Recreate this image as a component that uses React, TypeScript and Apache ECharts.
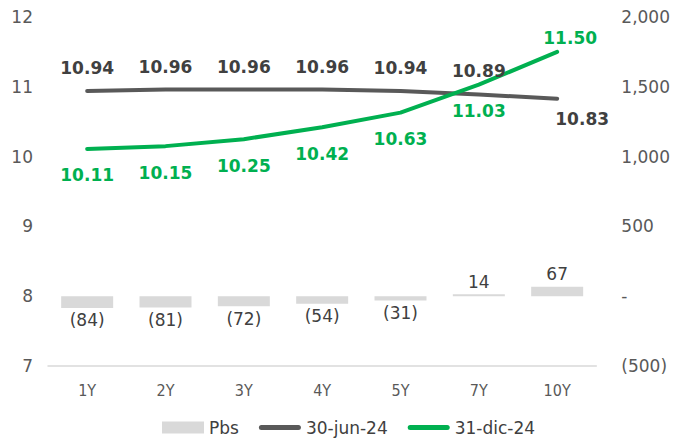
import React, { useEffect, useRef } from "react";
import * as echarts from "echarts";

const categories = ["1Y", "2Y", "3Y", "4Y", "5Y", "7Y", "10Y"];
const pbs = [-84, -81, -72, -54, -31, 14, 67];
const jun24 = [10.94, 10.96, 10.96, 10.96, 10.94, 10.89, 10.83];
const dic24 = [10.11, 10.15, 10.25, 10.42, 10.63, 11.03, 11.5];

const FONT = "DejaVu Sans";
const FONT_C = "DejaVu Sans Condensed";
const LINE_ICON = "path://M2.5,0 H39.5 A2.5,2.5 0 0 1 39.5,5 H2.5 A2.5,2.5 0 0 1 2.5,0 Z";

export default function App() {
  const ref = useRef<HTMLDivElement>(null);
  useEffect(() => {
    if (!ref.current) return;
    const chart = echarts.init(ref.current, null, { renderer: "svg" });
    const junData = jun24.map((v, i) => {
      if (i === jun24.length - 1) {
        return { value: v, label: { position: "bottom", offset: [25, -3] } };
      }
      return { value: v };
    });
    const dicData = dic24.map((v, i) => {
      if (i === dic24.length - 1) {
        return { value: v, label: { position: "top", distance: 5, offset: [13, 0] } };
      }
      return { value: v };
    });
    chart.setOption({
      animation: false,
      grid: { left: 48, right: 70, top: 17, bottom: 73 },
      legend: {
        top: 414,
        left: 157,
        itemWidth: 42,
        itemHeight: 12,
        itemGap: 20,
        textStyle: { fontFamily: FONT, fontSize: 17, color: "#404040", lineHeight: 17 },
        data: [
          { name: "Pbs", icon: "rect" },
          { name: "30-jun-24", icon: LINE_ICON },
          { name: "31-dic-24", icon: LINE_ICON },
        ],
      },
      xAxis: {
        type: "category",
        data: categories,
        axisLine: { show: true, onZero: false, lineStyle: { color: "#d9d9d9", width: 1.5 } },
        axisTick: { show: false },
        axisLabel: { color: "#595959", fontFamily: FONT_C, fontSize: 16, margin: 16 },
      },
      yAxis: [
        {
          type: "value",
          min: 7,
          max: 12,
          interval: 1,
          splitLine: { show: false },
          axisLine: { show: false },
          axisLabel: { color: "#595959", fontFamily: FONT, fontSize: 17, margin: 15 },
        },
        {
          type: "value",
          min: -500,
          max: 2000,
          interval: 500,
          splitLine: { show: false },
          axisLine: { show: false },
          axisLabel: {
            color: "#595959",
            fontFamily: FONT,
            fontSize: 17,
            margin: 25,
            formatter: (v: number) =>
              v === 0 ? "-" : v < 0 ? "(" + Math.abs(v).toLocaleString("en-US") + ")" : v.toLocaleString("en-US"),
          },
        },
      ],
      series: [
        {
          name: "Pbs",
          type: "bar",
          yAxisIndex: 1,
          data: pbs,
          barWidth: 52,
          itemStyle: { color: "#d9d9d9" },
          label: {
            show: true,
            position: "outside",
            color: "#404040",
            fontFamily: FONT,
            fontSize: 17,
            distance: 4,
            formatter: (p: any) => (p.value < 0 ? "(" + Math.abs(p.value) + ")" : String(p.value)),
          },
        },
        {
          name: "30-jun-24",
          type: "line",
          yAxisIndex: 0,
          data: junData,
          symbol: "circle",
          symbolSize: 0.1,
          lineStyle: { color: "#595959", width: 4, cap: "round" },
          itemStyle: { color: "#595959" },
          label: {
            show: true,
            position: "top",
            distance: 14.5,
            color: "#404040",
            fontFamily: FONT,
            fontWeight: "bold",
            fontSize: 17,
            formatter: (p: any) => p.value.toFixed(2),
          },
        },
        {
          name: "31-dic-24",
          type: "line",
          yAxisIndex: 0,
          data: dicData,
          symbol: "circle",
          symbolSize: 0.1,
          lineStyle: { color: "#00b050", width: 4, cap: "round" },
          itemStyle: { color: "#00b050" },
          label: {
            show: true,
            position: "bottom",
            distance: 18,
            color: "#00b050",
            fontFamily: FONT,
            fontWeight: "bold",
            fontSize: 17,
            formatter: (p: any) => p.value.toFixed(2),
          },
        },
      ],
    });
    return () => chart.dispose();
  }, []);
  return <div ref={ref} style={{ position: "absolute", left: 0, top: 0, width: 673, height: 439 }} />;
}
